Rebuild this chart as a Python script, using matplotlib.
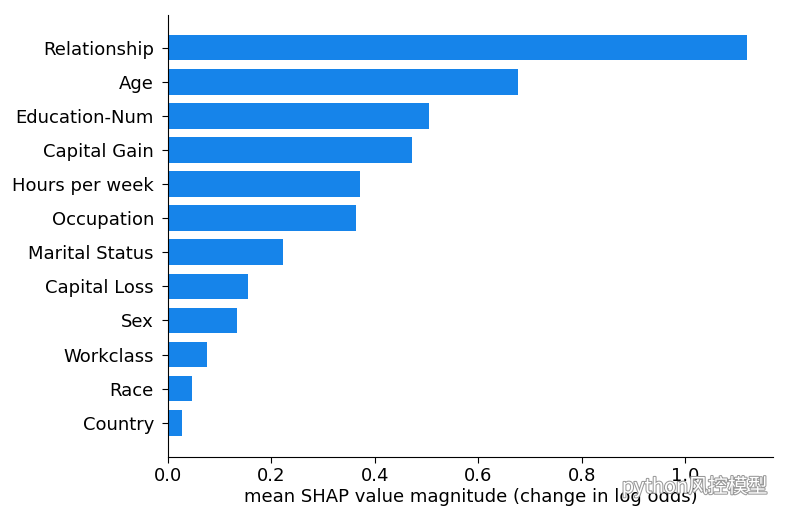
import matplotlib
matplotlib.use("Agg")
import matplotlib.pyplot as plt
import matplotlib.patheffects as pe

features = ["Relationship", "Age", "Education-Num", "Capital Gain", "Hours per week",
            "Occupation", "Marital Status", "Capital Loss", "Sex", "Workclass", "Race", "Country"]
values = [1.12, 0.677, 0.505, 0.472, 0.371, 0.364, 0.222, 0.155, 0.133, 0.075, 0.046, 0.027]
xticks = [0.0, 0.2, 0.4, 0.6, 0.8, 1.0]
xlabel = "mean SHAP value magnitude (change in log odds)"

fig = plt.figure(figsize=(7.88, 5.24), dpi=100)
ax = fig.add_axes([0.213, 0.128, 0.768, 0.843])

n = len(features)
ypos = list(range(n - 1, -1, -1))
ax.barh(ypos, values, 0.75, align="center", color="#1684EA")
ax.set_yticks(ypos)
ax.set_yticklabels(features, fontsize=13)
ax.set_ylim(-1, n - 0.05)
ax.set_xlim(0, 1.17)
ax.set_xticks(xticks)
ax.set_xticklabels([f"{t:.1f}" for t in xticks], fontsize=13)
ax.set_xlabel(xlabel, fontsize=13, labelpad=2)
ax.spines["top"].set_visible(False)
ax.spines["right"].set_visible(False)
ax.tick_params(axis="y", length=4, pad=6)
ax.tick_params(axis="x", length=4)

fig.text(0.789, 0.071, "python风控模型", fontsize=14.3, color="white", va="center",
         family=["Noto Sans CJK SC", "DejaVu Sans"],
         path_effects=[pe.withStroke(linewidth=1.5, foreground="#999999")])

fig.savefig("out.png", dpi=100)
